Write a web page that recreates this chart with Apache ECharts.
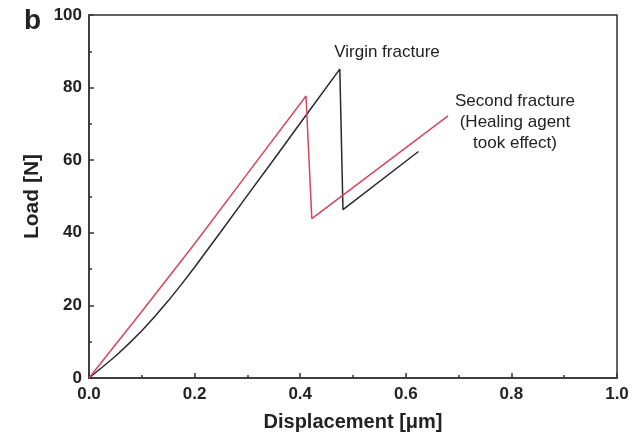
<!DOCTYPE html>
<html><head><meta charset="utf-8">
<script src="https://cdn.jsdelivr.net/npm/echarts@6/dist/echarts.min.js"></script>
<style>html,body{margin:0;padding:0;background:#fff}#c{width:637px;height:437px}</style>
</head><body><div id="c"></div>
<script>
// Virgin fracture (black): displacement [µm], load [N]
const virginX = [0, 0.025, 0.05, 0.075, 0.1, 0.125, 0.15, 0.175, 0.2, 0.25, 0.3, 0.35, 0.412, 0.475, 0.481, 0.624];
const virginY = [0, 2.95, 6.0, 9.4, 13.0, 17.0, 21.25, 25.8, 30.5, 40.35, 50.3, 60.2, 72.6, 85.1, 46.4, 62.4];
// Second fracture (red)
const secondX = [0, 0.1, 0.2, 0.3, 0.411, 0.422, 0.68];
const secondY = [0, 18.3, 37.0, 56.3, 77.7, 43.9, 72.2];
const xTicks = [0, 0.2, 0.4, 0.6, 0.8, 1.0];
const yTicks = [0, 20, 40, 60, 80, 100];
const annVirgin = 'Virgin fracture';
const annSecond = ['Second fracture', '(Healing agent', 'took effect)'];

const zip = (xs, ys) => xs.map((x, i) => [x, ys[i]]);
const font = 'Liberation Sans, Arial, Helvetica, sans-serif';
const axisCol = '#333';
const chart = echarts.init(document.getElementById('c'), null, {renderer: 'canvas'});
chart.setOption({
  animation: false,
  backgroundColor: '#fff',
  grid: {left: 89, right: 20, top: 15, bottom: 58, show: true, borderColor: axisCol, borderWidth: 1.5},
  xAxis: {
    type: 'value', min: xTicks[0], max: xTicks[xTicks.length - 1], interval: 0.2,
    name: 'Displacement [\u03bcm]', nameLocation: 'middle', nameGap: 34,
    nameTextStyle: {fontFamily: font, fontWeight: 'bold', fontSize: 20, color: '#222'},
    axisLine: {lineStyle: {color: axisCol, width: 1.5}},
    axisTick: {inside: true, length: 5, lineStyle: {color: axisCol, width: 1.5}},
    minorTick: {show: true, splitNumber: 2, length: 3, lineStyle: {color: axisCol, width: 1.5}},
    splitLine: {show: false},
    axisLabel: {margin: 8, fontFamily: font, fontWeight: 'bold', fontSize: 17, color: '#222',
      formatter: v => v.toFixed(1)}
  },
  yAxis: {
    type: 'value', min: yTicks[0], max: yTicks[yTicks.length - 1], interval: 20,
    name: 'Load [N]', nameLocation: 'middle', nameGap: 45,
    nameTextStyle: {fontFamily: font, fontWeight: 'bold', fontSize: 21, color: '#222'},
    axisLine: {show: true, lineStyle: {color: axisCol, width: 1.5}},
    axisTick: {show: true, inside: true, length: 5, lineStyle: {color: axisCol, width: 1.5}},
    minorTick: {show: true, splitNumber: 2, length: 3, lineStyle: {color: axisCol, width: 1.5}},
    splitLine: {show: false},
    axisLabel: {margin: 7, fontFamily: font, fontWeight: 'bold', fontSize: 17, color: '#222'}
  },
  series: [
    {type: 'line', name: 'Virgin fracture', data: zip(virginX, virginY), showSymbol: false, smooth: false,
      lineStyle: {color: '#2a2a2a', width: 1.5}},
    {type: 'line', name: 'Second fracture', data: zip(secondX, secondY), showSymbol: false, smooth: false,
      lineStyle: {color: '#d6465a', width: 1.5}}
  ],
  graphic: [
    {type: 'text', left: 24, top: 7, style: {text: 'b', font: 'bold 28px ' + font, fill: '#222'}},
    {type: 'text', x: 387, y: 52, style: {text: annVirgin, font: '17px ' + font, fill: '#222', align: 'center', verticalAlign: 'middle'}},
    {type: 'text', x: 515, y: 122, style: {text: annSecond.join('\n'), font: '17px ' + font, lineHeight: 21, fill: '#222', align: 'center', verticalAlign: 'middle'}}
  ]
});
</script></body></html>
